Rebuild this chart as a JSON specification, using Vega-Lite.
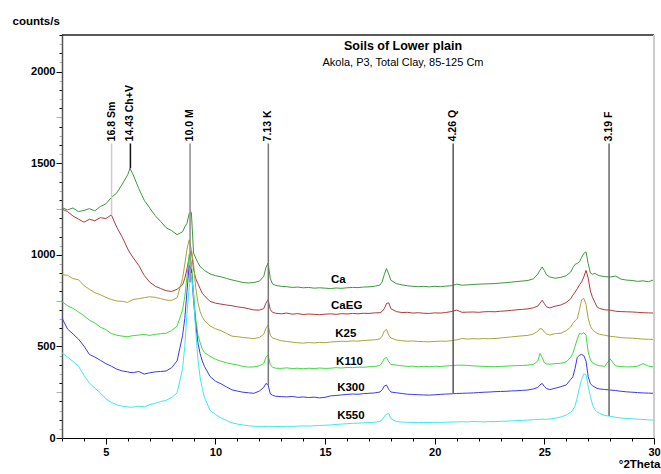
{
  "$schema": "https://vega.github.io/schema/vega-lite/v6.json",
  "width": 592,
  "height": 403,
  "autosize": {"type": "none"},
  "padding": {"left": 62, "top": 35, "right": 7, "bottom": 36},
  "background": "#ffffff",
  "config": {
    "view": {"stroke": null},
    "font": "Liberation Sans",
    "axis": {"labelFont": "Liberation Sans", "titleFont": "Liberation Sans", "labelFontWeight": "bold", "titleFontWeight": "bold", "labelColor": "#000", "titleColor": "#000", "grid": false, "labelOverlap": false}
  },
  "title": {
    "text": "Soils of Lower plain",
    "subtitle": "Akola, P3, Total Clay, 85-125 Cm",
    "anchor": "middle",
    "frame": "group",
    "dx": 45,
    "offset": -53,
    "font": "Liberation Sans",
    "fontSize": 12.5,
    "fontWeight": "bold",
    "color": "#000",
    "subtitleFont": "Liberation Sans",
    "subtitleFontSize": 11,
    "subtitleColor": "#000",
    "subtitlePadding": 5
  },
  "resolve": {"scale": {"color": "independent"}},
  "datasets": {
    "xrd": [
      {"x":3.0,"Ca":1258,"CaEG":1250,"K25":893,"K110":745,"K300":655,"K550":465},
      {"x":3.25,"Ca":1245,"CaEG":1236,"K25":888,"K110":722,"K300":595,"K550":442},
      {"x":3.5,"Ca":1256,"CaEG":1212,"K25":870,"K110":708,"K300":568,"K550":418},
      {"x":3.75,"Ca":1236,"CaEG":1195,"K25":864,"K110":688,"K300":540,"K550":392},
      {"x":4.0,"Ca":1242,"CaEG":1178,"K25":832,"K110":668,"K300":502,"K550":342},
      {"x":4.25,"Ca":1252,"CaEG":1194,"K25":812,"K110":643,"K300":456,"K550":300},
      {"x":4.5,"Ca":1240,"CaEG":1186,"K25":793,"K110":628,"K300":442,"K550":272},
      {"x":4.75,"Ca":1264,"CaEG":1203,"K25":782,"K110":605,"K300":424,"K550":246},
      {"x":5.0,"Ca":1278,"CaEG":1198,"K25":768,"K110":592,"K300":406,"K550":214},
      {"x":5.25,"Ca":1312,"CaEG":1218,"K25":756,"K110":570,"K300":392,"K550":194},
      {"x":5.5,"Ca":1338,"CaEG":1150,"K25":748,"K110":561,"K300":376,"K550":181},
      {"x":5.75,"Ca":1386,"CaEG":1096,"K25":746,"K110":556,"K300":366,"K550":174},
      {"x":6.0,"Ca":1438,"CaEG":1032,"K25":740,"K110":553,"K300":361,"K550":170},
      {"x":6.1,"Ca":1472,"CaEG":1010,"K25":748,"K110":556,"K300":358,"K550":168},
      {"x":6.25,"Ca":1436,"CaEG":984,"K25":756,"K110":559,"K300":357,"K550":169},
      {"x":6.5,"Ca":1362,"CaEG":942,"K25":761,"K110":562,"K300":363,"K550":173},
      {"x":6.75,"Ca":1298,"CaEG":888,"K25":766,"K110":565,"K300":349,"K550":170},
      {"x":7.0,"Ca":1256,"CaEG":851,"K25":771,"K110":560,"K300":356,"K550":182},
      {"x":7.25,"Ca":1214,"CaEG":829,"K25":768,"K110":566,"K300":361,"K550":189},
      {"x":7.5,"Ca":1182,"CaEG":816,"K25":761,"K110":569,"K300":363,"K550":199},
      {"x":7.75,"Ca":1148,"CaEG":804,"K25":753,"K110":572,"K300":366,"K550":206},
      {"x":8.0,"Ca":1132,"CaEG":800,"K25":751,"K110":586,"K300":384,"K550":221},
      {"x":8.25,"Ca":1110,"CaEG":812,"K25":766,"K110":611,"K300":421,"K550":246},
      {"x":8.5,"Ca":1126,"CaEG":836,"K25":870,"K110":700,"K300":560,"K550":380},
      {"x":8.6,"Ca":1152,"CaEG":872,"K25":950,"K110":772,"K300":652,"K550":500},
      {"x":8.7,"Ca":1172,"CaEG":922,"K25":1030,"K110":880,"K300":800,"K550":680},
      {"x":8.8,"Ca":1226,"CaEG":986,"K25":1082,"K110":1002,"K300":942,"K550":822},
      {"x":8.9,"Ca":1232,"CaEG":1022,"K25":1030,"K110":962,"K300":920,"K550":900},
      {"x":9.0,"Ca":1010,"CaEG":922,"K25":950,"K110":800,"K300":750,"K550":780},
      {"x":9.1,"Ca":982,"CaEG":870,"K25":820,"K110":650,"K300":620,"K550":580},
      {"x":9.2,"Ca":956,"CaEG":842,"K25":740,"K110":562,"K300":520,"K550":430},
      {"x":9.3,"Ca":936,"CaEG":815,"K25":690,"K110":520,"K300":460,"K550":330},
      {"x":9.4,"Ca":926,"CaEG":790,"K25":660,"K110":486,"K300":420,"K550":270},
      {"x":9.5,"Ca":914,"CaEG":776,"K25":641,"K110":466,"K300":390,"K550":220},
      {"x":9.75,"Ca":896,"CaEG":746,"K25":612,"K110":446,"K300":336,"K550":152},
      {"x":10.0,"Ca":886,"CaEG":736,"K25":596,"K110":430,"K300":310,"K550":128},
      {"x":10.25,"Ca":880,"CaEG":731,"K25":586,"K110":419,"K300":296,"K550":110},
      {"x":10.5,"Ca":871,"CaEG":726,"K25":571,"K110":411,"K300":279,"K550":96},
      {"x":10.75,"Ca":863,"CaEG":722,"K25":556,"K110":404,"K300":263,"K550":83},
      {"x":11.0,"Ca":856,"CaEG":716,"K25":553,"K110":399,"K300":256,"K550":76},
      {"x":11.25,"Ca":849,"CaEG":712,"K25":549,"K110":391,"K300":250,"K550":71},
      {"x":11.5,"Ca":846,"CaEG":706,"K25":546,"K110":387,"K300":247,"K550":67},
      {"x":11.75,"Ca":849,"CaEG":699,"K25":543,"K110":388,"K300":244,"K550":64},
      {"x":12.0,"Ca":856,"CaEG":698,"K25":549,"K110":394,"K300":256,"K550":63},
      {"x":12.2,"Ca":882,"CaEG":706,"K25":566,"K110":406,"K300":276,"K550":64},
      {"x":12.3,"Ca":930,"CaEG":736,"K25":600,"K110":440,"K300":298,"K550":62},
      {"x":12.4,"Ca":955,"CaEG":755,"K25":616,"K110":453,"K300":290,"K550":65},
      {"x":12.5,"Ca":871,"CaEG":701,"K25":561,"K110":401,"K300":241,"K550":63},
      {"x":12.6,"Ca":841,"CaEG":686,"K25":546,"K110":386,"K300":233,"K550":62},
      {"x":12.75,"Ca":833,"CaEG":681,"K25":540,"K110":381,"K300":228,"K550":63},
      {"x":13.0,"Ca":828,"CaEG":678,"K25":531,"K110":380,"K300":226,"K550":62},
      {"x":13.25,"Ca":826,"CaEG":682,"K25":527,"K110":383,"K300":224,"K550":64},
      {"x":13.5,"Ca":822,"CaEG":676,"K25":523,"K110":379,"K300":227,"K550":63},
      {"x":13.75,"Ca":824,"CaEG":679,"K25":520,"K110":381,"K300":222,"K550":65},
      {"x":14.0,"Ca":820,"CaEG":674,"K25":518,"K110":378,"K300":224,"K550":66},
      {"x":14.25,"Ca":822,"CaEG":677,"K25":521,"K110":381,"K300":221,"K550":65},
      {"x":14.5,"Ca":818,"CaEG":675,"K25":519,"K110":379,"K300":223,"K550":67},
      {"x":14.75,"Ca":820,"CaEG":673,"K25":522,"K110":382,"K300":219,"K550":68},
      {"x":15.0,"Ca":818,"CaEG":676,"K25":520,"K110":380,"K300":222,"K550":70},
      {"x":15.25,"Ca":816,"CaEG":678,"K25":524,"K110":381,"K300":230,"K550":71},
      {"x":15.5,"Ca":819,"CaEG":675,"K25":526,"K110":384,"K300":232,"K550":74},
      {"x":15.75,"Ca":817,"CaEG":679,"K25":528,"K110":382,"K300":235,"K550":76},
      {"x":16.0,"Ca":820,"CaEG":677,"K25":527,"K110":385,"K300":238,"K550":78},
      {"x":16.25,"Ca":822,"CaEG":680,"K25":530,"K110":384,"K300":240,"K550":80},
      {"x":16.5,"Ca":821,"CaEG":678,"K25":529,"K110":387,"K300":239,"K550":81},
      {"x":16.75,"Ca":824,"CaEG":681,"K25":532,"K110":386,"K300":242,"K550":83},
      {"x":17.0,"Ca":825,"CaEG":680,"K25":534,"K110":389,"K300":244,"K550":84},
      {"x":17.25,"Ca":828,"CaEG":683,"K25":536,"K110":390,"K300":246,"K550":86},
      {"x":17.5,"Ca":835,"CaEG":684,"K25":541,"K110":396,"K300":251,"K550":90},
      {"x":17.6,"Ca":852,"CaEG":691,"K25":556,"K110":411,"K300":263,"K550":100},
      {"x":17.7,"Ca":892,"CaEG":706,"K25":584,"K110":434,"K300":284,"K550":117},
      {"x":17.8,"Ca":925,"CaEG":734,"K25":593,"K110":440,"K300":289,"K550":130},
      {"x":17.9,"Ca":896,"CaEG":738,"K25":562,"K110":416,"K300":266,"K550":134},
      {"x":18.0,"Ca":861,"CaEG":706,"K25":546,"K110":402,"K300":251,"K550":106},
      {"x":18.25,"Ca":843,"CaEG":690,"K25":535,"K110":398,"K300":247,"K550":90},
      {"x":18.5,"Ca":836,"CaEG":685,"K25":531,"K110":394,"K300":243,"K550":87},
      {"x":18.75,"Ca":831,"CaEG":686,"K25":528,"K110":391,"K300":239,"K550":86},
      {"x":19.0,"Ca":828,"CaEG":682,"K25":530,"K110":392,"K300":238,"K550":85},
      {"x":19.25,"Ca":826,"CaEG":684,"K25":527,"K110":389,"K300":236,"K550":84},
      {"x":19.5,"Ca":828,"CaEG":681,"K25":526,"K110":391,"K300":235,"K550":85},
      {"x":19.75,"Ca":825,"CaEG":680,"K25":525,"K110":389,"K300":234,"K550":84},
      {"x":20.0,"Ca":828,"CaEG":683,"K25":527,"K110":392,"K300":236,"K550":86},
      {"x":20.25,"Ca":826,"CaEG":682,"K25":529,"K110":390,"K300":238,"K550":85},
      {"x":20.5,"Ca":829,"CaEG":685,"K25":528,"K110":393,"K300":240,"K550":86},
      {"x":20.75,"Ca":831,"CaEG":690,"K25":531,"K110":395,"K300":241,"K550":87},
      {"x":21.0,"Ca":840,"CaEG":698,"K25":536,"K110":397,"K300":243,"K550":88},
      {"x":21.25,"Ca":834,"CaEG":686,"K25":543,"K110":398,"K300":244,"K550":89},
      {"x":21.5,"Ca":836,"CaEG":687,"K25":540,"K110":396,"K300":245,"K550":88},
      {"x":21.75,"Ca":838,"CaEG":688,"K25":542,"K110":394,"K300":246,"K550":90},
      {"x":22.0,"Ca":840,"CaEG":686,"K25":541,"K110":392,"K300":248,"K550":89},
      {"x":22.25,"Ca":841,"CaEG":689,"K25":543,"K110":391,"K300":250,"K550":88},
      {"x":22.5,"Ca":842,"CaEG":690,"K25":542,"K110":390,"K300":251,"K550":90},
      {"x":22.75,"Ca":843,"CaEG":689,"K25":543,"K110":389,"K300":253,"K550":89},
      {"x":23.0,"Ca":846,"CaEG":692,"K25":546,"K110":391,"K300":254,"K550":91},
      {"x":23.25,"Ca":848,"CaEG":694,"K25":549,"K110":392,"K300":255,"K550":92},
      {"x":23.5,"Ca":851,"CaEG":697,"K25":552,"K110":394,"K300":257,"K550":93},
      {"x":23.75,"Ca":854,"CaEG":700,"K25":555,"K110":395,"K300":258,"K550":95},
      {"x":24.0,"Ca":857,"CaEG":702,"K25":558,"K110":396,"K300":260,"K550":96},
      {"x":24.25,"Ca":860,"CaEG":705,"K25":560,"K110":398,"K300":262,"K550":98},
      {"x":24.5,"Ca":869,"CaEG":711,"K25":568,"K110":402,"K300":268,"K550":100},
      {"x":24.7,"Ca":895,"CaEG":720,"K25":582,"K110":420,"K300":276,"K550":101},
      {"x":24.8,"Ca":916,"CaEG":736,"K25":598,"K110":462,"K300":290,"K550":102},
      {"x":24.9,"Ca":934,"CaEG":752,"K25":595,"K110":440,"K300":298,"K550":103},
      {"x":25.0,"Ca":914,"CaEG":734,"K25":578,"K110":410,"K300":281,"K550":101},
      {"x":25.1,"Ca":890,"CaEG":716,"K25":568,"K110":404,"K300":270,"K550":102},
      {"x":25.25,"Ca":879,"CaEG":710,"K25":562,"K110":403,"K300":264,"K550":104},
      {"x":25.5,"Ca":872,"CaEG":720,"K25":570,"K110":406,"K300":272,"K550":108},
      {"x":25.75,"Ca":877,"CaEG":726,"K25":572,"K110":408,"K300":280,"K550":115},
      {"x":26.0,"Ca":886,"CaEG":740,"K25":586,"K110":415,"K300":290,"K550":125},
      {"x":26.2,"Ca":906,"CaEG":760,"K25":606,"K110":440,"K300":320,"K550":140},
      {"x":26.3,"Ca":930,"CaEG":780,"K25":626,"K110":462,"K300":334,"K550":153},
      {"x":26.4,"Ca":948,"CaEG":796,"K25":640,"K110":500,"K300":380,"K550":176},
      {"x":26.5,"Ca":953,"CaEG":815,"K25":652,"K110":540,"K300":440,"K550":220},
      {"x":26.6,"Ca":962,"CaEG":836,"K25":700,"K110":570,"K300":452,"K550":275},
      {"x":26.7,"Ca":986,"CaEG":852,"K25":755,"K110":568,"K300":456,"K550":320},
      {"x":26.8,"Ca":1008,"CaEG":880,"K25":762,"K110":575,"K300":450,"K550":350},
      {"x":26.9,"Ca":1016,"CaEG":915,"K25":730,"K110":560,"K300":420,"K550":346},
      {"x":27.0,"Ca":952,"CaEG":872,"K25":652,"K110":470,"K300":334,"K550":282},
      {"x":27.1,"Ca":900,"CaEG":802,"K25":610,"K110":426,"K300":296,"K550":226},
      {"x":27.2,"Ca":894,"CaEG":766,"K25":590,"K110":410,"K300":285,"K550":181},
      {"x":27.3,"Ca":899,"CaEG":741,"K25":580,"K110":404,"K300":278,"K550":156},
      {"x":27.4,"Ca":892,"CaEG":716,"K25":572,"K110":398,"K300":271,"K550":143},
      {"x":27.5,"Ca":886,"CaEG":708,"K25":567,"K110":395,"K300":268,"K550":135},
      {"x":27.75,"Ca":881,"CaEG":700,"K25":561,"K110":391,"K300":265,"K550":123},
      {"x":28.0,"Ca":879,"CaEG":698,"K25":555,"K110":432,"K300":262,"K550":119},
      {"x":28.25,"Ca":884,"CaEG":692,"K25":552,"K110":393,"K300":259,"K550":113},
      {"x":28.5,"Ca":867,"CaEG":690,"K25":548,"K110":390,"K300":255,"K550":109},
      {"x":28.75,"Ca":862,"CaEG":689,"K25":546,"K110":388,"K300":252,"K550":107},
      {"x":29.0,"Ca":860,"CaEG":688,"K25":545,"K110":389,"K300":250,"K550":105},
      {"x":29.25,"Ca":855,"CaEG":686,"K25":543,"K110":392,"K300":248,"K550":103},
      {"x":29.5,"Ca":858,"CaEG":684,"K25":540,"K110":406,"K300":246,"K550":101},
      {"x":29.75,"Ca":853,"CaEG":683,"K25":539,"K110":392,"K300":245,"K550":99},
      {"x":30.0,"Ca":864,"CaEG":682,"K25":538,"K110":389,"K300":244,"K550":98}
    ],
    "peaks": [
      {"label":"16.8 Sm","x":5.26,"counts":1608,"bottom":1215},
      {"label":"14.43 Ch+V","x":6.12,"counts":1608,"bottom":1472},
      {"label":"10.0 M","x":8.84,"counts":1608,"bottom":850},
      {"label":"7.13 K","x":12.41,"counts":1608,"bottom":290},
      {"label":"4.26 Q","x":20.84,"counts":1608,"bottom":245},
      {"label":"3.19 F","x":27.95,"counts":1608,"bottom":122}
    ],
    "samples": [
      {"name":"Ca","x":15.27,"counts":860},
      {"name":"CaEG","x":15.27,"counts":720},
      {"name":"K25","x":15.46,"counts":567},
      {"name":"K110","x":15.5,"counts":416},
      {"name":"K300","x":15.55,"counts":273},
      {"name":"K550","x":15.55,"counts":122}
    ]
  },
  "encoding": {
    "x": {
      "field": "x", "type": "quantitative",
      "scale": {"domain": [3, 30], "nice": false, "zero": false},
      "axis": {
        "title": "°2Theta",
        "titleAlign": "right",
        "titleBaseline": "alphabetic",
        "titleX": 598,
        "titleY": 29,
        "titleFontSize": 11.5,
        "values": [3,3.5,4,4.5,5,5.5,6,6.5,7,7.5,8,8.5,9,9.5,10,10.5,11,11.5,12,12.5,13,13.5,14,14.5,15,15.5,16,16.5,17,17.5,18,18.5,19,19.5,20,20.5,21,21.5,22,22.5,23,23.5,24,24.5,25,25.5,26,26.5,27,27.5,28,28.5,29,29.5,30],
        "format": "d",
        "labelExpr": "datum.value % 5 === 0 ? datum.label : ''",
        "labelOverlap": false,
        "labelBound": false,
        "labelFlush": false,
        "labelFontSize": 11,
        "labelPadding": 2,
        "domainColor": "#000",
        "domainWidth": 1,
        "tickColor": {"condition": {"test": "datum.value % 1 === 0", "value": "#000"}, "value": "#b0b0b0"},
        "tickSize": {"condition": {"test": "datum.value % 2.5 === 0", "value": 6}, "value": 3}
      }
    },
    "y": {
      "field": "counts", "type": "quantitative",
      "scale": {"domain": [0, 2200], "nice": false},
      "axis": {
        "title": "counts/s",
        "titleAngle": 0,
        "titleAlign": "left",
        "titleBaseline": "alphabetic",
        "titleX": -50,
        "titleY": -11,
        "titleFontSize": 11.5,
        "values": [0,50,100,150,200,250,300,350,400,450,500,550,600,650,700,750,800,850,900,950,1000,1050,1100,1150,1200,1250,1300,1350,1400,1450,1500,1550,1600,1650,1700,1750,1800,1850,1900,1950,2000,2050,2100,2150,2200],
        "labelExpr": "datum.value % 500 === 0 ? datum.label : ''",
        "format": "d",
        "labelOverlap": false,
        "labelBound": false,
        "labelFlush": false,
        "labelFontSize": 11,
        "labelPadding": 1,
        "domainColor": "#555",
        "domainWidth": 1.5,
        "tickColor": {"condition": {"test": "datum.value % 100 === 0", "value": "#000"}, "value": "#b0b0b0"},
        "tickSize": {"condition": {"test": "datum.value % 250 === 0", "value": 6}, "value": 3}
      }
    }
  },
  "layer": [
    {
      "data": {"name": "xrd"},
      "transform": [{"fold": ["Ca", "CaEG", "K25", "K110", "K300", "K550"], "as": ["sample", "counts"]}],
      "mark": {"type": "line", "strokeWidth": 1, "clip": true},
      "encoding": {
        "color": {
          "field": "sample", "type": "nominal",
          "scale": {"domain": ["Ca", "CaEG", "K25", "K110", "K300", "K550"], "range": ["#3a9a3a", "#b03a3a", "#aaa53a", "#3ddc3d", "#3a3ae6", "#3ee8f0"]},
          "legend": null
        }
      }
    },
    {
      "data": {"name": "peaks"},
      "mark": {"type": "rule", "strokeWidth": 1.5},
      "encoding": {
        "y2": {"field": "bottom"},
        "color": {
          "field": "label", "type": "nominal",
          "scale": {"domain": ["16.8 Sm", "14.43 Ch+V", "10.0 M", "7.13 K", "4.26 Q", "3.19 F"], "range": ["#cccccc", "#111111", "#8a8a8a", "#777777", "#555555", "#666666"]},
          "legend": null
        }
      }
    },
    {
      "data": {"name": "peaks"},
      "mark": {"type": "text", "angle": 270, "align": "left", "baseline": "middle", "dx": 2, "font": "Liberation Sans", "fontSize": 10.5, "fontWeight": "bold", "color": "#000"},
      "encoding": {
        "text": {"field": "label"}
      }
    },
    {
      "data": {"name": "samples"},
      "mark": {"type": "text", "align": "left", "baseline": "middle", "font": "Liberation Sans", "fontSize": 11.5, "fontWeight": "bold", "color": "#000"},
      "encoding": {
        "text": {"field": "name"}
      }
    },
    {
      "data": {"values": [{"x": 3, "xend": 30, "counts": 2200}]},
      "mark": {"type": "rule", "color": "#222", "strokeWidth": 1.5},
      "encoding": {"x2": {"field": "xend"}}
    },
    {
      "data": {"values": [{"x": 30, "counts": 0, "ctop": 2200}]},
      "mark": {"type": "rule", "color": "#cccccc", "strokeWidth": 2},
      "encoding": {"y2": {"field": "ctop"}}
    }
  ]
}
